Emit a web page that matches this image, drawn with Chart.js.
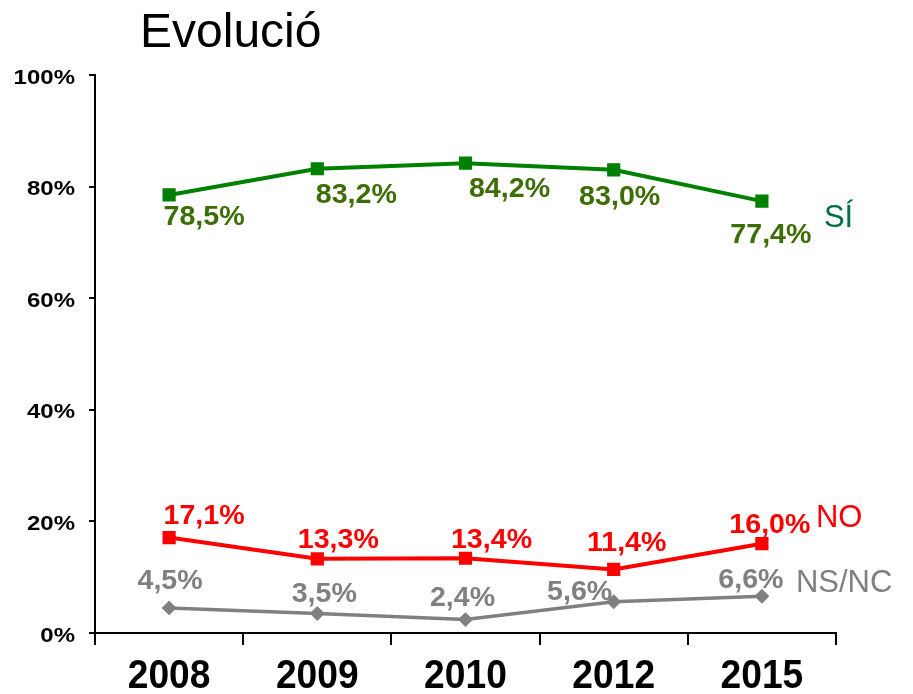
<!DOCTYPE html>
<html>
<head>
<meta charset="utf-8">
<script src="https://cdn.jsdelivr.net/npm/chart.js@4/dist/chart.umd.min.js"></script>
<style>
  html, body { margin: 0; padding: 0; background: #ffffff; }
  canvas { display: block; }
</style>
</head>
<body>
<canvas id="c" width="913" height="694"></canvas>
<script>
// ---- data ----
const categories = ['2008', '2009', '2010', '2012', '2015'];
const siValues   = [78.5, 83.2, 84.2, 83.0, 77.4];
const noValues   = [17.1, 13.3, 13.4, 11.4, 16.0];
const nsncValues = [4.5, 3.5, 2.4, 5.6, 6.6];
const seriesNames = ['SÍ', 'NO', 'NS/NC'];
const yTickValues = [0, 20, 40, 60, 80, 100];
const titleText = 'Evolució';

// ---- styling (label offsets in px relative to each point) ----
const labelOffsets = [
  [[35, 23], [39, 27], [44, 26], [6, 28], [9, 34]],
  [[35, -21], [21, -18], [26, -18], [13, -26], [8, -18]],
  [[1, -26], [7, -19], [-3, -21], [-34, -9], [-11, -16]]
];
const labelColors = ['#3c6e05', '#ff0000', '#808080'];
const nameColors = ['#00703c', '#ff0000', '#808080'];
const nameOffsets = [[62, 17], [54, -25], [34, -13]];

function fmt(v) { return v.toFixed(1).replace('.', ',') + '%'; }

function drawText(ctx, text, x, y, font, color, align, sx, baseline) {
  ctx.save();
  ctx.translate(x, y);
  ctx.scale(sx, 1);
  ctx.font = font;
  ctx.fillStyle = color;
  ctx.textAlign = align;
  ctx.textBaseline = baseline || 'middle';
  ctx.fillText(text, 0, 0);
  ctx.restore();
}

const textPlugin = {
  id: 'texts',
  afterDraw(chart) {
    const ctx = chart.ctx;
    const xs = chart.scales.x, ys = chart.scales.y;
    // title
    drawText(ctx, titleText, 140, 47, '48px "Liberation Sans", Arial, sans-serif', '#000', 'left', 1, 'alphabetic');
    // y tick labels
    yTickValues.forEach(v => {
      drawText(ctx, v + '%', 75, ys.getPixelForValue(v) + 3, 'bold 20px "Liberation Sans", Arial, sans-serif', '#000', 'right', 1.2);
    });
    // x tick labels
    categories.forEach((c, i) => {
      drawText(ctx, c, xs.getPixelForValue(i), 677, 'bold 40px "Liberation Sans", Arial, sans-serif', '#000', 'center', 0.93);
    });
    // data labels & series names
    chart.data.datasets.forEach((ds, di) => {
      const meta = chart.getDatasetMeta(di);
      meta.data.forEach((pt, i) => {
        const off = labelOffsets[di][i];
        drawText(ctx, fmt(ds.data[i]), pt.x + off[0], pt.y + off[1], 'bold 27px "Liberation Sans", Arial, sans-serif', labelColors[di], 'center', 1.06);
      });
      const last = meta.data[meta.data.length - 1];
      drawText(ctx, seriesNames[di], last.x + nameOffsets[di][0], last.y + nameOffsets[di][1], '31px "Liberation Sans", Arial, sans-serif', nameColors[di], 'left', 1);
    });
  }
};

new Chart(document.getElementById('c'), {
  type: 'line',
  data: {
    labels: categories,
    datasets: [
      { label: seriesNames[0], data: siValues, borderColor: '#008000', backgroundColor: '#008000',
        pointBackgroundColor: '#008000', pointBorderColor: '#008000', borderWidth: 4,
        pointStyle: 'rect', pointRadius: 6.5, tension: 0 },
      { label: seriesNames[1], data: noValues, borderColor: '#ff0000', backgroundColor: '#ff0000',
        pointBackgroundColor: '#ff0000', pointBorderColor: '#ff0000', borderWidth: 4,
        pointStyle: 'rect', pointRadius: 6.5, tension: 0 },
      { label: seriesNames[2], data: nsncValues, borderColor: '#808080', backgroundColor: '#808080',
        pointBackgroundColor: '#808080', pointBorderColor: '#808080', borderWidth: 3.5,
        pointStyle: 'rectRot', pointRadius: 5, tension: 0 }
    ]
  },
  options: {
    responsive: false,
    animation: false,
    layout: { padding: { left: 95, top: 75, right: 77, bottom: 61 } },
    plugins: { legend: { display: false }, tooltip: { enabled: false }, title: { display: false } },
    scales: {
      x: {
        offset: true,
        grid: { offset: true, drawOnChartArea: false, drawTicks: true, tickLength: 12, color: '#000', lineWidth: 2 },
        border: { display: true, color: '#000', width: 2 },
        ticks: { display: false },
        afterFit(s) { s.height = 0; }
      },
      y: {
        min: 0, max: 100,
        ticks: { display: false, stepSize: 20 },
        grid: { drawOnChartArea: false, drawTicks: true, tickLength: 6, color: '#000', lineWidth: 2 },
        border: { display: true, color: '#000', width: 2 },
        afterFit(s) { s.width = 0; }
      }
    }
  },
  plugins: [textPlugin]
});
</script>
</body>
</html>
